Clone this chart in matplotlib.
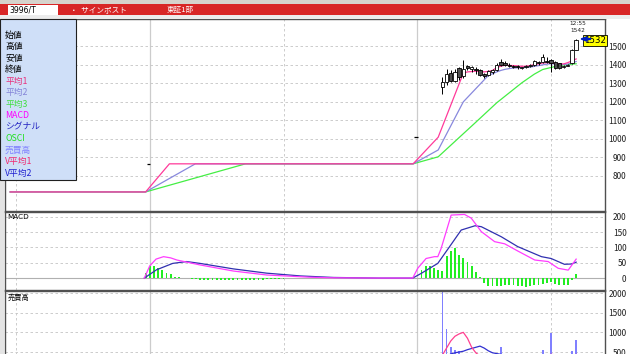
import matplotlib.pyplot as plt
from matplotlib.patches import Rectangle, Polygon

plt.rcParams['font.family'] = ['Noto Sans CJK JP', 'DejaVu Sans']

# ---- data (x = bar index) ----
candle_x = [31.7, 95.7] + list(range(102, 135))
opens = [862, 1009, 1282, 1310, 1357, 1315, 1382, 1340, 1392, 1375, 1380, 1370, 1350, 1345, 1360, 1372,
         1417, 1412, 1400, 1395, 1392, 1383, 1388, 1392, 1399, 1416, 1417, 1420, 1426, 1417, 1408,
         1390, 1396, 1408, 1480]
highs = [862, 1009, 1336, 1375, 1370, 1380, 1390, 1426, 1400, 1395, 1390, 1378, 1355, 1372, 1378, 1410,
         1430, 1420, 1410, 1400, 1398, 1390, 1400, 1404, 1426, 1420, 1457, 1440, 1430, 1420, 1410,
         1398, 1406, 1485, 1542]
lows = [862, 1009, 1242, 1290, 1305, 1305, 1320, 1330, 1370, 1360, 1352, 1340, 1330, 1340, 1352, 1365,
        1395, 1395, 1388, 1383, 1380, 1375, 1382, 1386, 1395, 1400, 1412, 1410, 1363, 1378, 1380,
        1385, 1392, 1405, 1478]
closes = [862, 1009, 1309, 1352, 1314, 1360, 1335, 1380, 1383, 1388, 1372, 1345, 1342, 1368, 1372, 1402,
          1399, 1402, 1392, 1390, 1386, 1386, 1394, 1398, 1422, 1408, 1444, 1415, 1408, 1381, 1383,
          1394, 1402, 1480, 1532]

avg1_x = [-1.4, 31, 36.7, 95, 101, 107] + list(range(108, 135))
avg1 = [713, 713, 865, 865, 1009, 1355, 1362, 1364, 1366, 1364, 1362, 1365, 1370, 1385, 1393, 1398,
        1397, 1396, 1394, 1392, 1393, 1396, 1402, 1405, 1410, 1412, 1411, 1408, 1405, 1405, 1412,
        1422, 1432]
avg2_x = [-1.4, 31, 42.9, 95, 101, 107, 113] + list(range(114, 135))
avg2 = [713, 713, 865, 865, 940, 1200, 1343, 1352, 1362, 1370, 1376, 1380, 1383, 1384, 1385, 1386,
        1388, 1392, 1396, 1400, 1404, 1406, 1405, 1403, 1402, 1404, 1410, 1418]
avg3_x = [-1.4, 31, 54.9, 95, 101, 110, 115, 121, 124, 126, 130, 134]
avg3 = [713, 713, 865, 865, 903, 1090, 1195, 1303, 1350, 1375, 1397, 1406]

macd_x = [30.7, 32, 33.5, 35.3, 37, 38.5, 44, 52, 60, 70, 75, 86.8,
          94.9, 96.1, 98.1, 100.1, 100.9, 101.7, 104.1, 107.3, 108.9, 111.3, 114.5, 116.9, 120.1,
          124.1, 127.3, 129.7, 132.1, 134]
macd = [0, 40, 62, 70, 66, 59, 43, 23, 10, 3, 1, 0,
        0, 32, 64, 70, 70, 97, 206, 208, 196, 152, 119, 112, 88, 59, 54, 32, 26, 62]
sig_x = [30.7, 33.6, 37.5, 40.8, 44, 52, 60, 68, 76, 86.8,
         94.9, 96.9, 100.9, 104.1, 106.5, 109.8, 111.3, 116.1, 120, 125.7, 128, 131.2, 132.9, 134]
signal = [0, 27, 48, 54, 48, 30, 16, 7, 2, 0,
          0, 15, 48, 110, 157, 171, 168, 135, 103, 70, 64, 45, 46, 52]
osci_x = list(range(31, 41)) + list(range(42, 65)) + list(range(97, 135))
osci = [16, 38, 38, 32, 27, 18, 13, 5, 2, 1,
        -3, -4, -5, -5, -6, -6, -7, -7, -7, -7, -7, -7, -6, -6, -6, -5, -5, -5, -4, -4, -4, -3, -3,
        27, 38, 38, 32, 27, 22, 71, 90, 98, 77, 65, 52, 38, 20, 3, -16, -25, -27, -27, -25, -24,
        -22, -22, -25, -27, -29, -27, -24, -22, -19, -15, -14, -19, -22, -22, -24, -5, 13]

volume = [300, 300, 2100, 1080, 620, 560, 520, 450, 400, 380, 350, 300, 280, 330, 300, 420, 640, 380,
          300, 260, 240, 250, 260, 300, 330, 280, 560, 300, 980, 420, 330, 280, 420, 520, 800]
vavg_x = list(range(102, 135))
vavg1 = [420, 600, 780, 900, 960, 1000, 850, 620, 480, 400, 360, 350, 340, 360, 400, 390, 370, 350,
         330, 320, 320, 330, 340, 360, 380, 420, 440, 430, 410, 390, 380, 400, 440]
vavg2 = [300, 380, 450, 480, 500, 520, 560, 590, 620, 650, 600, 530, 480, 460, 440, 420, 410, 400,
         390, 380, 380, 380, 385, 390, 395, 400, 410, 420, 420, 415, 410, 415, 425]

price_ticks = [800, 900, 1000, 1100, 1200, 1300, 1400, 1500]
macd_ticks = [0, 50, 100, 150, 200]
vol_ticks = [500, 1000, 1500, 2000]
legend_items = [('始値', 'black'), ('高値', 'black'), ('安値', 'black'), ('終値', 'black'),
                ('平均1', '#e8307c'), ('平均2', '#8484d8'), ('平均3', '#40e040'),
                ('MACD', '#ff00ff'), ('シグナル', '#2020c0'), ('OSCI', '#20e020'),
                ('売買高', '#8080ff'), ('V平均1', '#f02870'), ('V平均2', '#2020d0')]

W, H = 630, 354
fig = plt.figure(figsize=(W / 100, H / 100), dpi=100, facecolor='white')


def box(x0, y0, x1, y1):
    # pixel box (top-left origin) -> figure fraction rect
    return [x0 / W, 1 - y1 / H, (x1 - x0) / W, (y1 - y0) / H]


ax = fig.add_axes(box(5, 19, 605, 211))
axm = fig.add_axes(box(5, 212, 605, 290))
axv = fig.add_axes(box(5, 291, 605, 372))

xlim = (-2.63, 140.9)
for a in (ax, axm, axv):
    a.set_xlim(*xlim)
    a.set_xticks([])
    a.yaxis.tick_right()
    a.tick_params(axis='y', length=0, pad=15.5, labelsize=6, labelcolor='#202020')
    for s in a.spines.values():
        s.set_color('#505050')
        s.set_linewidth(1.0)
    for gx in (0, 64, 128):
        a.axvline(gx, color='#c4c4c4', lw=0.6, ls=(0, (3, 3)), zorder=0)
    for gx in (32, 96):
        a.axvline(gx, color='#cccccc', lw=0.9, zorder=0)

# main price panel
ax.set_ylim(610, 1648)
ax.set_yticks(price_ticks)
for t in price_ticks:
    ax.axhline(t, color='#c4c4c4', lw=0.6, ls=(0, (3, 3)), zorder=0)
ax.plot(avg3_x, avg3, color='#44ee44', lw=0.9, zorder=2)
ax.plot(avg2_x, avg2, color='#8888dd', lw=0.9, zorder=2)
ax.plot(avg1_x, avg1, color='#ff3a9a', lw=0.9, zorder=2)
for x, o, h, l, c in zip(candle_x, opens, highs, lows, closes):
    ax.vlines(x, l, h, color='black', lw=0.7, zorder=3)
    if o == c:
        ax.hlines(o, x - 0.4, x + 0.4, color='black', lw=0.9, zorder=4)
    else:
        face = 'white' if c > o else '#505050'
        ax.add_patch(Rectangle((x - 0.4, min(o, c)), 0.8, abs(c - o), facecolor=face,
                               edgecolor='black', lw=0.6, zorder=4))
for lab in ax.get_yticklabels():
    lab.set_ha('right')

# last price marker
last = closes[-1]
ax.text(138.5, last, str(last), fontsize=6.2, ha='center', va='center', zorder=6,
        family='DejaVu Sans',
        bbox=dict(boxstyle='square,pad=0.15', facecolor='#ffff00', edgecolor='black', lw=0.6))
ax.add_patch(Polygon([[135.2, last + 8], [136.6, last + 20], [136.6, last - 4]],
                     closed=True, color='#0020c0', zorder=6, clip_on=False))
ax.plot([136.4, 137.4], [last + 8, last + 8], color='#0020c0', lw=1.6, zorder=6)
ax.text(134.3, 1621, '12:55', fontsize=4.2, ha='center', va='center',
        family='DejaVu Sans', color='#202020')
ax.text(134.3, 1587, str(highs[-1]), fontsize=4.2, ha='center', va='center',
        family='DejaVu Sans', color='#202020')

# MACD panel
axm.set_ylim(-39, 216)
axm.set_yticks(macd_ticks)
for t in macd_ticks[1:]:
    axm.axhline(t, color='#c4c4c4', lw=0.6, ls=(0, (3, 3)), zorder=0)
axm.axhline(0, color='#b0b0b0', lw=0.8, zorder=0)
axm.bar(osci_x, osci, width=0.45, color='#22ee22', zorder=2)
axm.plot(sig_x, signal, color='#3030b0', lw=0.9, zorder=3)
axm.plot(macd_x, macd, color='#ff3cff', lw=0.9, zorder=3)
for lab in axm.get_yticklabels():
    lab.set_ha('right')
axm.text(0.004, 0.97, 'MACD', transform=axm.transAxes, fontsize=5.2, va='top',
         family='DejaVu Sans')

# volume panel
axv.set_ylim(-8, 2051)
axv.set_yticks(vol_ticks)
for t in vol_ticks:
    axv.axhline(t, color='#c4c4c4', lw=0.6, ls=(0, (3, 3)), zorder=0)
axv.bar(candle_x, volume, width=0.4, color='#8080ff', zorder=2)
axv.plot(vavg_x, vavg2, color='#3030d0', lw=0.9, zorder=3)
axv.plot(vavg_x, vavg1, color='#ff4090', lw=0.9, zorder=3)
for lab in axv.get_yticklabels():
    lab.set_ha('right')
axv.text(0.004, 0.97, '売買高', transform=axv.transAxes, fontsize=5.2, va='top')

# window chrome: toolbar strip, red title bar, left border
fig.add_artist(Rectangle((0, 1 - 4 / H), 1, 4 / H, transform=fig.transFigure,
                         facecolor='#d6d3cc', edgecolor='none'))
fig.add_artist(Rectangle((0, 1 - 15 / H), 1, 10.5 / H, transform=fig.transFigure,
                         facecolor='#d82626', edgecolor='none'))
fig.add_artist(Rectangle((0, 1 - 19 / H), 1, 4 / H, transform=fig.transFigure,
                         facecolor='#ececec', edgecolor='none'))
fig.add_artist(Rectangle((8 / W, 1 - 15 / H), 50 / W, 10 / H, transform=fig.transFigure,
                         facecolor='white', edgecolor='none'))
fig.add_artist(Rectangle((0, 0), 4 / W, 1 - 19 / H, transform=fig.transFigure,
                         facecolor='#e4e4e4', edgecolor='none'))
fig.text(9 / W, 1 - 10 / H, '3996/T', fontsize=5.5, va='center', family='DejaVu Sans')
fig.text(70 / W, 1 - 10 / H, '・  サインポスト', fontsize=5.5, va='center', color='white')
fig.text(167 / W, 1 - 10 / H, '東証1部', fontsize=5.5, va='center', color='white')

# indicator legend box
fig.add_artist(Rectangle((0, 1 - 180 / H), 76 / W, 161 / H, transform=fig.transFigure,
                         facecolor='#cfdff8', edgecolor='#202020', lw=0.8, zorder=5))
for i, (name, col) in enumerate(legend_items):
    fig.text(5 / W, 1 - (35 + 11.5 * i) / H, name, fontsize=6.3, va='center', color=col,
             zorder=6)

fig.savefig('out.png', dpi=100, facecolor=fig.get_facecolor())
